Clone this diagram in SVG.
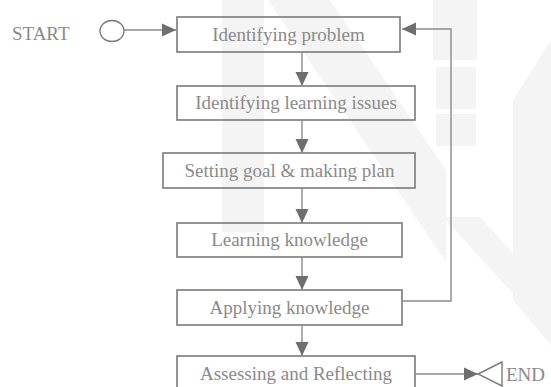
<svg xmlns="http://www.w3.org/2000/svg" width="551" height="387" viewBox="0 0 551 387">
  <style>
    .wm { fill: #f4f4f4; stroke: none; }
    .box rect { fill: none; stroke: #7a7a7a; stroke-width: 1.6; }
    .lbl { font-family: "Liberation Serif", "Times New Roman", serif; font-size: 19px; fill: #8a8a8a; }
    .box text { text-anchor: middle; }
    .conn { fill: none; stroke: #8a8a8a; stroke-width: 1.4; }
    .head { fill: #6e6e6e; stroke: none; }
  </style>
  <defs>
    <marker id="arr" viewBox="0 0 14 14" refX="14" refY="7" markerWidth="14" markerHeight="14" markerUnits="userSpaceOnUse" orient="auto">
      <path class="head" d="M0,0.5 L14,7 L0,13.5 Z"/>
    </marker>
  </defs>
  <rect width="551" height="387" fill="#ffffff"/>

  <g id="watermark">
    <rect class="wm" x="222" y="0" width="42" height="232"/>
    <polygon class="wm" points="268,0 330,0 446,170 446,262"/>
    <rect class="wm" x="433" y="0" width="44" height="60"/>
    <rect class="wm" x="436" y="67" width="40" height="42"/>
    <rect class="wm" x="436" y="114" width="40" height="32"/>
    <polygon class="wm" points="551,40 513,100 513,300 551,345"/>
    <polygon class="wm" points="443,217 480,217 551,295 551,335"/>
  </g>

  <g id="start">
    <text class="lbl" x="12" y="40">START</text>
    <ellipse cx="112" cy="31" rx="12" ry="10.5" fill="#ffffff" stroke="#7a7a7a" stroke-width="1.4"/>
  </g>

  <g id="n1" class="box">
    <rect x="177" y="17" width="223" height="35"/>
    <text class="lbl" x="288.5" y="41">Identifying problem</text>
  </g>
  <g id="n2" class="box">
    <rect x="177" y="86" width="238" height="34"/>
    <text class="lbl" x="296" y="109">Identifying learning issues</text>
  </g>
  <g id="n3" class="box">
    <rect x="163" y="153" width="252" height="35"/>
    <text class="lbl" x="289.5" y="177">Setting goal &amp; making plan</text>
  </g>
  <g id="n4" class="box">
    <rect x="177" y="223" width="225" height="34"/>
    <text class="lbl" x="289.5" y="246">Learning knowledge</text>
  </g>
  <g id="n5" class="box">
    <rect x="177" y="290" width="225" height="35"/>
    <text class="lbl" x="289.5" y="314">Applying knowledge</text>
  </g>
  <g id="n6" class="box">
    <rect x="177" y="356" width="238" height="35"/>
    <text class="lbl" x="296" y="380">Assessing and Reflecting</text>
  </g>

  <g id="end">
    <polygon points="478,374 502,362 502,386" fill="#ffffff" stroke="#7a7a7a" stroke-width="1.4"/>
    <text class="lbl" x="506" y="381">END</text>
  </g>

  <g id="connectors">
    <line class="conn" x1="124" y1="30" x2="176" y2="30" marker-end="url(#arr)"/>
    <line class="conn" x1="302" y1="52" x2="302" y2="86" marker-end="url(#arr)"/>
    <line class="conn" x1="302" y1="120" x2="302" y2="153" marker-end="url(#arr)"/>
    <line class="conn" x1="302" y1="188" x2="302" y2="223" marker-end="url(#arr)"/>
    <line class="conn" x1="302" y1="257" x2="302" y2="290" marker-end="url(#arr)"/>
    <line class="conn" x1="302" y1="325" x2="302" y2="356" marker-end="url(#arr)"/>
    <polyline class="conn" points="402,301 451,301 451,29 402,29" marker-end="url(#arr)"/>
    <line class="conn" x1="415" y1="374" x2="478" y2="374" marker-end="url(#arr)"/>
  </g>
</svg>
